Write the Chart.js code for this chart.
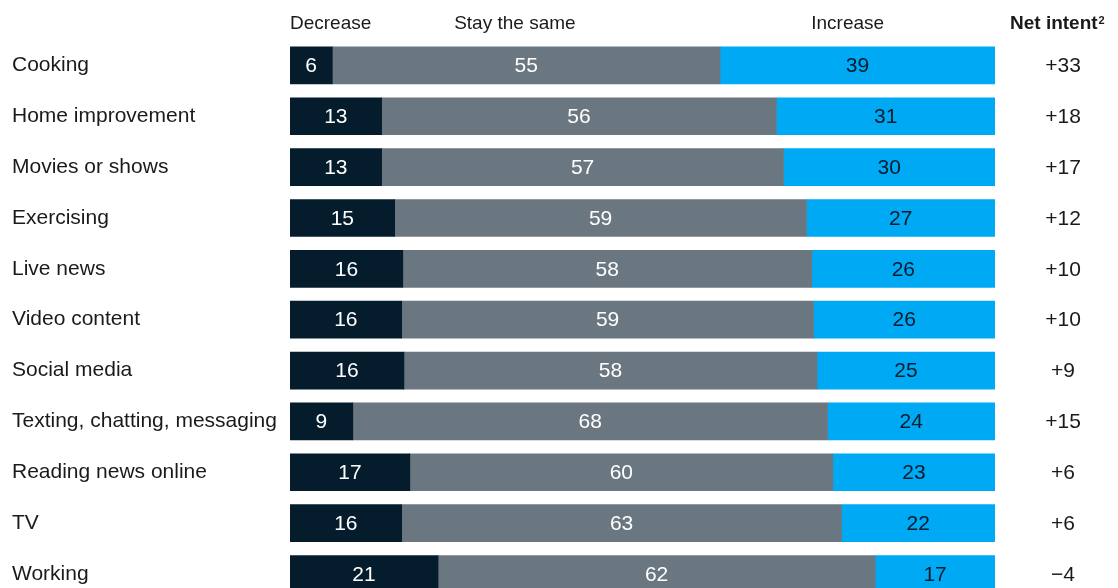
<!DOCTYPE html>
<html>
<head>
<meta charset="utf-8">
<script src="https://cdn.jsdelivr.net/npm/chart.js@4"></script>
<style>
html,body{margin:0;padding:0;background:#fff;overflow:hidden;}
#wrap{width:1118px;height:612px;}
</style>
</head>
<body>
<div id="wrap"><canvas id="c" width="1118" height="612"></canvas></div>
<script>
const categories = ["Cooking","Home improvement","Movies or shows","Exercising","Live news","Video content","Social media","Texting, chatting, messaging","Reading news online","TV","Working"];
const decrease = [6,13,13,15,16,16,16,9,17,16,21];
const same = [55,56,57,59,58,59,58,68,60,63,62];
const increase = [39,31,30,27,26,26,25,24,23,22,17];
const netIntent = ["+33","+18","+17","+12","+10","+10","+9","+15","+6","+6","\u22124"];
const headers = ["Decrease","Stay the same","Increase"];

const FONT = "'Liberation Sans', Arial, Helvetica, sans-serif";
const TEXT = "#1a1a1a";
const totals = categories.map((_, i) => decrease[i] + same[i] + increase[i]);
const share = arr => arr.map((v, i) => v / totals[i] * 100);

const labelPlugin = {
  id: 'labels',
  afterDatasetsDraw(chart) {
    const ctx = chart.ctx;
    const colors = ['#ffffff', '#ffffff', '#051C2C'];
    ctx.save();
    ctx.font = "21px " + FONT;
    ctx.textAlign = 'center';
    ctx.textBaseline = 'middle';
    chart.data.datasets.forEach((ds, di) => {
      const meta = chart.getDatasetMeta(di);
      meta.data.forEach((bar, i) => {
        ctx.fillStyle = colors[di];
        ctx.fillText(String(ds.raw[i]), (bar.x + bar.base) / 2, bar.y + 1);
      });
    });
    // net intent column
    const y = chart.scales.y;
    ctx.fillStyle = TEXT;
    netIntent.forEach((t, i) => {
      ctx.fillText(t, 1063, y.getPixelForValue(i) + 1);
    });
    // headers
    const x = chart.scales.x;
    ctx.font = "19px " + FONT;
    ctx.textAlign = 'left';
    ctx.fillText(headers[0], x.getPixelForValue(0), 24);
    ctx.textAlign = 'center';
    ctx.fillText(headers[1], x.getPixelForValue(31.9), 24);
    ctx.fillText(headers[2], x.getPixelForValue(79.1), 24);
    ctx.font = "bold 19px " + FONT;
    ctx.textAlign = 'left';
    const t = "Net intent";
    const w = ctx.measureText(t).width;
    const sx = 1010;
    ctx.fillText(t, sx, 24);
    ctx.font = "bold 11px " + FONT;
    ctx.fillText("2", sx + w + 1, 21);
    ctx.restore();
  }
};

new Chart(document.getElementById('c'), {
  type: 'bar',
  data: {
    labels: categories,
    datasets: [
      {label: 'Decrease', data: share(decrease), raw: decrease, backgroundColor: '#051C2C'},
      {label: 'Stay the same', data: share(same), raw: same, backgroundColor: '#6B7780'},
      {label: 'Increase', data: share(increase), raw: increase, backgroundColor: '#00A9F4'}
    ]
  },
  options: {
    indexAxis: 'y',
    responsive: false,
    animation: false,
    devicePixelRatio: 1,
    layout: {padding: {left: 12, right: 123, top: 40, bottom: 1}},
    plugins: {legend: {display: false}, tooltip: {enabled: false}},
    datasets: {bar: {barThickness: 37, borderWidth: 0}},
    scales: {
      x: {stacked: true, min: 0, max: 100, display: false},
      y: {
        stacked: true,
        grid: {display: false, drawTicks: false},
        border: {display: false},
        afterFit(s) { s.width = 278; },
        ticks: {
          autoSkip: false,
          crossAlign: 'far',
          padding: 0,
          color: TEXT,
          font: {family: FONT, size: 21}
        }
      }
    }
  },
  plugins: [labelPlugin]
});
</script>
</body>
</html>
